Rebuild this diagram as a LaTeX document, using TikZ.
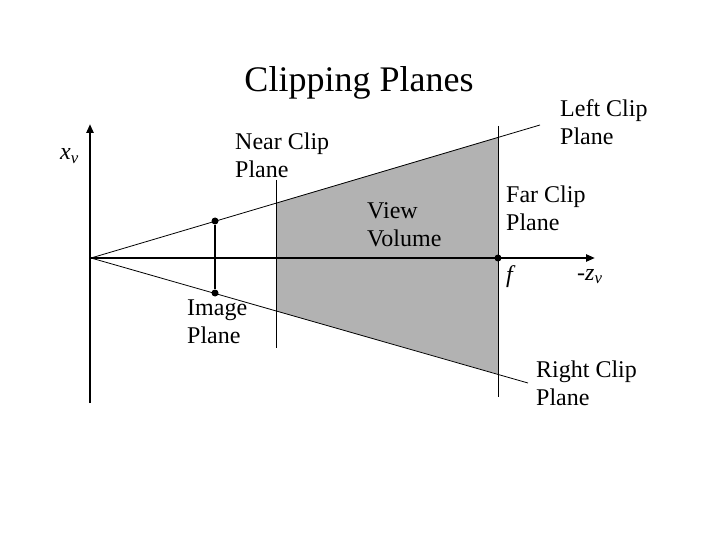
\documentclass[tikz,border=0pt]{standalone}
\usepackage{fontspec}
\setmainfont{Liberation Serif}[ItalicFont={Liberation Serif Italic}]
\usetikzlibrary{arrows.meta}

\begin{document}
\begin{tikzpicture}
  [x=1pt,y=-1pt,
   every node/.style={inner sep=0pt},
   lbl/.style={align=left,anchor=base west,font=\fontsize{24}{28}\selectfont},
   dot/.style={circle,fill=black,minimum size=7pt},
   axis/.style={line width=2.5pt,-{Triangle[length=9pt,width=7pt]}}]
  \useasboundingbox (0,0) rectangle (720,540);

  \coordinate (o) at (91,258);
  \coordinate (lend) at (540,125);
  \coordinate (rend) at (528,383);
  \coordinate (nt) at (276,203);
  \coordinate (nb) at (276,311);
  \coordinate (ft) at (498,137);
  \coordinate (fb) at (498,374);

  % view volume
  \fill[black!30] (nt) -- (ft) -- (fb) -- (nb) -- cycle;

  % clip planes
  \coordinate (ntop) at (276,180);
  \coordinate (nbot) at (276,348);
  \coordinate (ftop) at (498,126);
  \coordinate (fbot) at (498,397);
  \draw[thick] (ntop) -- (nbot);
  \draw[thick] (ftop) -- (fbot);
  \draw[thick] (o) -- (lend);
  \draw[thick] (o) -- (rend);

  % axes
  \coordinate (xbot) at (90,403);
  \coordinate (xtop) at (90,124);
  \coordinate (zend) at (595,258);
  \draw[axis] (xbot) -- (xtop);
  \draw[axis] (o) -- (zend);

  % image plane
  \node[dot] (i1) at (215,221) {};
  \node[dot] (i2) at (215,293) {};
  \draw[line width=1.5pt] (i1) -- (i2);
  \node[dot] (f) at (498,258) {};

  % labels
  \node[font=\fontsize{36}{40}\selectfont,anchor=base] (title) at (359,92) {Clipping Planes};
  \node[lbl] (near) at (235,178) {Near Clip\\Plane};
  \node[lbl] (left) at (560,145) {Left Clip\\Plane};
  \node[lbl] (view) at (367,246) {View\\Volume};
  \node[lbl] (far) at (506,230) {Far Clip\\Plane};
  \node[lbl] (img) at (187,343) {Image\\Plane};
  \node[lbl] (right) at (536,405) {Right Clip\\Plane};
  \node[lbl] (xv) at (60,160) {\textit{x}\textsubscript{\textit{v}}};
  \node[lbl] (fl) at (506,282) {\textit{f}};
  \node[lbl] (zv) at (577,280) {-\textit{z}\textsubscript{\textit{v}}};
\end{tikzpicture}
\end{document}
